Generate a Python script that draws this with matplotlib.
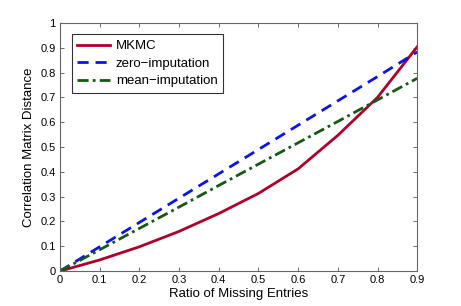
import matplotlib
matplotlib.use("Agg")
import matplotlib.pyplot as plt

plt.rcParams["font.family"] = ["Liberation Sans", "DejaVu Sans"]

ratio = [0.0, 0.1, 0.2, 0.3, 0.4, 0.5, 0.6, 0.7, 0.8, 0.9]
mkmc = [0.0, 0.045, 0.098, 0.160, 0.232, 0.313, 0.412, 0.547, 0.700, 0.904]
zero_imp = [0.0, 0.098, 0.196, 0.294, 0.392, 0.490, 0.588, 0.686, 0.784, 0.883]
mean_imp = [0.0, 0.086, 0.172, 0.258, 0.345, 0.431, 0.517, 0.603, 0.690, 0.777]

fig = plt.figure(figsize=(4.61, 3.06), dpi=100)
ax = fig.add_axes([0.130, 0.114, 0.775, 0.811])

ax.plot(ratio, mkmc, color="#b0002a", lw=2.0, ls="-", label="MKMC")
ax.plot(ratio, zero_imp, color="#0a14f0", lw=2.0, ls=(0, (4, 2.5)), label="zero\u2212imputation")
ax.plot(ratio, mean_imp, color="#145a14", lw=2.0, ls=(0, (4, 1.5, 1, 1.5)), label="mean\u2212imputation")

ax.set_xlim(0, 0.9)
ax.set_ylim(0, 1)
ax.set_xticks(ratio)
ax.set_xticklabels(["0", "0.1", "0.2", "0.3", "0.4", "0.5", "0.6", "0.7", "0.8", "0.9"])
ax.set_yticks([0, 0.1, 0.2, 0.3, 0.4, 0.5, 0.6, 0.7, 0.8, 0.9, 1.0])
ax.set_yticklabels(["0", "0.1", "0.2", "0.3", "0.4", "0.5", "0.6", "0.7", "0.8", "0.9", "1"])
ax.tick_params(direction="in", length=3, width=0.6, labelsize=8, top=True, right=True, pad=3, colors="#555555", labelcolor="black")
for s in ax.spines.values():
    s.set_color("#666666")
    s.set_linewidth(0.8)

ax.set_xlabel("Ratio of Missing Entries", fontsize=9.5, labelpad=2)
ax.set_ylabel("Correlation Matrix Distance", fontsize=9.5, labelpad=4)

leg = ax.legend(loc="upper left", bbox_to_anchor=(0.025, 0.965), fontsize=9.5, frameon=True, fancybox=False,
                edgecolor="black", handlelength=2.5, borderpad=0.45, labelspacing=0.4, handletextpad=0.4, borderaxespad=0.2)
leg.get_frame().set_linewidth(0.8)

fig.savefig("out.png", dpi=100)
